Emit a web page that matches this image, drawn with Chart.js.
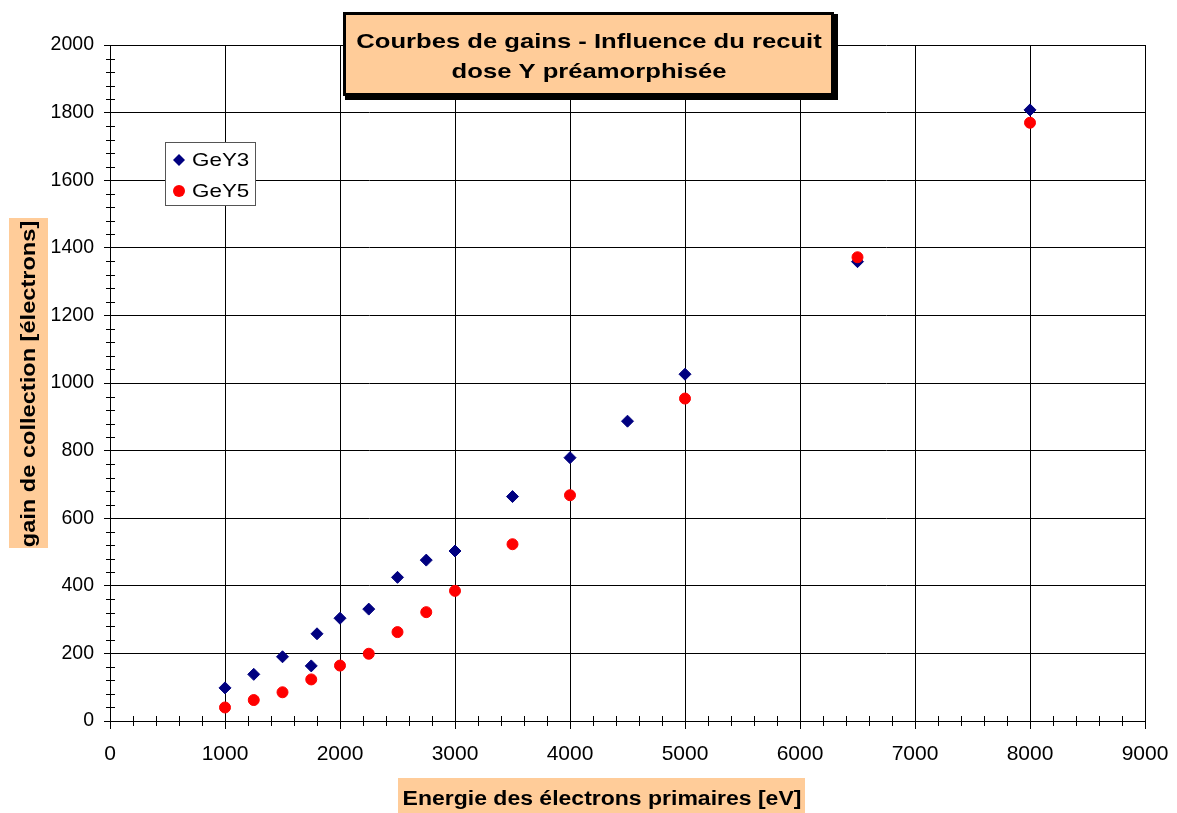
<!DOCTYPE html>
<html>
<head>
<meta charset="utf-8">
<title>Courbes de gains</title>
<script src="https://cdn.jsdelivr.net/npm/chart.js@4.4.1/dist/chart.umd.min.js"></script>
<style>
  html, body { margin: 0; padding: 0; background: #fff; }
  #chart { display: block; }
</style>
</head>
<body>
<canvas id="chart" width="1177" height="813"></canvas>
<script>
// ── Data ─────────────────────────────────────────────
const energyY3 = [1000, 1250, 1500, 1750, 1800, 2000, 2250, 2500, 2750, 3000, 3500, 4000, 4500, 5000, 6500, 8000];
const gainY3   = [98, 138, 190, 163, 258, 304, 331, 425, 476, 503, 664, 779, 887, 1026, 1359, 1808];

const energyY5 = [1000, 1250, 1500, 1750, 2000, 2250, 2500, 2750, 3000, 3500, 4000, 5000, 6500, 8000];
const gainY5   = [40, 62, 85, 123, 164, 199, 263, 322, 385, 523, 668, 954, 1372, 1770];

const xTicks = [0, 1000, 2000, 3000, 4000, 5000, 6000, 7000, 8000, 9000];
const yTicks = [0, 200, 400, 600, 800, 1000, 1200, 1400, 1600, 1800, 2000];

const titleLines = ['Courbes de gains - Influence du recuit', 'dose Y préamorphisée'];
const xTitle = 'Energie des électrons primaires [eV]';
const yTitle = 'gain de collection [électrons]';

const ORANGE = '#FFCC99';
const FONT = '"Liberation Sans", Arial, sans-serif';

const toPoints = (xs, ys) => xs.map((x, i) => ({ x, y: ys[i] }));

// text is a bit wider than the font in the original (stretched export)
function wideText(ctx, text, x, y, sx) {
  ctx.save();
  ctx.translate(x, y);
  ctx.scale(sx, 1);
  ctx.fillText(text, 0, 0);
  ctx.restore();
}

// ── Decorations: minor ticks, title box, axis titles, legend ──
const decorations = {
  id: 'decorations',
  afterDraw(chart) {
    const { ctx, chartArea: a, scales: { x, y } } = chart;
    ctx.save();

    // minor ticks crossing the axes
    ctx.strokeStyle = '#000';
    ctx.lineWidth = 1;
    ctx.beginPath();
    for (let v = 200; v < 9000; v += 200) {
      if (v % 1000 === 0) continue;
      const px = Math.round(x.getPixelForValue(v)) + 0.5;
      ctx.moveTo(px, a.bottom - 5);
      ctx.lineTo(px, a.bottom + 5);
    }
    for (let v = 40; v < 2000; v += 40) {
      if (v % 200 === 0) continue;
      const py = Math.round(y.getPixelForValue(v)) + 0.5;
      ctx.moveTo(a.left - 4, py);
      ctx.lineTo(a.left + 5, py);
    }
    ctx.stroke();

    // title box
    ctx.fillStyle = '#000';
    ctx.fillRect(345, 14, 493, 86);
    ctx.fillStyle = ORANGE;
    ctx.fillRect(343, 12, 491, 84);
    ctx.lineWidth = 3;
    ctx.strokeStyle = '#000';
    ctx.strokeRect(344.5, 13.5, 488, 81);
    ctx.fillStyle = '#000';
    ctx.font = 'bold 21px ' + FONT;
    ctx.textAlign = 'center';
    ctx.textBaseline = 'middle';
    wideText(ctx, titleLines[0], 589, 42, 1.22);
    wideText(ctx, titleLines[1], 589, 72, 1.22);

    // x axis title
    ctx.fillStyle = ORANGE;
    ctx.fillRect(398, 778, 407, 35);
    ctx.fillStyle = '#000';
    ctx.font = 'bold 20px ' + FONT;
    wideText(ctx, xTitle, 602, 799, 1.15);

    // y axis title
    ctx.fillStyle = ORANGE;
    ctx.fillRect(9, 218, 39, 330);
    ctx.save();
    ctx.translate(29, 384);
    ctx.rotate(-Math.PI / 2);
    ctx.fillStyle = '#000';
    wideText(ctx, yTitle, 0, 0, 1.18);
    ctx.restore();

    // legend
    ctx.fillStyle = '#fff';
    ctx.fillRect(165, 142, 90, 63);
    ctx.lineWidth = 1;
    ctx.strokeStyle = '#555';
    ctx.strokeRect(165.5, 142.5, 90, 63);
    chart.data.datasets.forEach((ds, i) => {
      const cy = 160 + i * 31;
      ctx.fillStyle = ds.backgroundColor;
      ctx.beginPath();
      if (ds.pointStyle === 'rectRot') {
        ctx.moveTo(179, cy - 6); ctx.lineTo(185, cy); ctx.lineTo(179, cy + 6); ctx.lineTo(173, cy);
      } else {
        ctx.arc(179, cy, 6, 0, Math.PI * 2);
      }
      ctx.fill();
      ctx.fillStyle = '#000';
      ctx.font = '19px ' + FONT;
      ctx.textAlign = 'left';
      wideText(ctx, ds.label, 192, cy + 1, 1.18);
    });

    ctx.restore();
  }
};

// ── Chart ────────────────────────────────────────────
new Chart(document.getElementById('chart'), {
  type: 'scatter',
  data: {
    datasets: [
      {
        label: 'GeY3',
        data: toPoints(energyY3, gainY3),
        pointStyle: 'rectRot',
        pointRadius: 6,
        pointBorderWidth: 1,
        backgroundColor: '#000080',
        borderColor: '#000080',
        order: 2
      },
      {
        label: 'GeY5',
        data: toPoints(energyY5, gainY5),
        pointStyle: 'circle',
        pointRadius: 5.5,
        pointBorderWidth: 1,
        backgroundColor: '#FF0000',
        borderColor: '#FF0000',
        order: 1
      }
    ]
  },
  options: {
    responsive: false,
    animation: false,
    layout: { padding: { top: 45, right: 32, bottom: 0, left: 0 } },
    plugins: {
      legend: { display: false },
      tooltip: { enabled: false },
      title: { display: false }
    },
    scales: {
      x: {
        type: 'linear',
        min: 0,
        max: 9000,
        afterFit: s => { s.height = 92; s.paddingLeft = 0; s.paddingRight = 0; },
        afterBuildTicks: s => { s.ticks = xTicks.map(value => ({ value })); },
        grid: { color: '#000', lineWidth: 1, tickLength: 8, tickColor: '#000' },
        border: { color: '#000', width: 1 },
        ticks: {
          color: '#000',
          font: { family: FONT, size: 21 },
          padding: 13,
          maxRotation: 0,
          autoSkip: false,
          callback: v => String(v)
        }
      },
      y: {
        type: 'linear',
        min: 0,
        max: 2000,
        afterFit: s => { s.width = 110; s.paddingTop = 0; s.paddingBottom = 0; },
        afterBuildTicks: s => { s.ticks = yTicks.map(value => ({ value })); },
        grid: { color: '#000', lineWidth: 1, tickLength: 6, tickColor: '#000' },
        border: { color: '#000', width: 1 },
        ticks: {
          color: '#000',
          font: { family: FONT, size: 19.5 },
          padding: 10,
          autoSkip: false,
          callback: v => String(v)
        }
      }
    }
  },
  plugins: [decorations]
});
</script>
</body>
</html>
